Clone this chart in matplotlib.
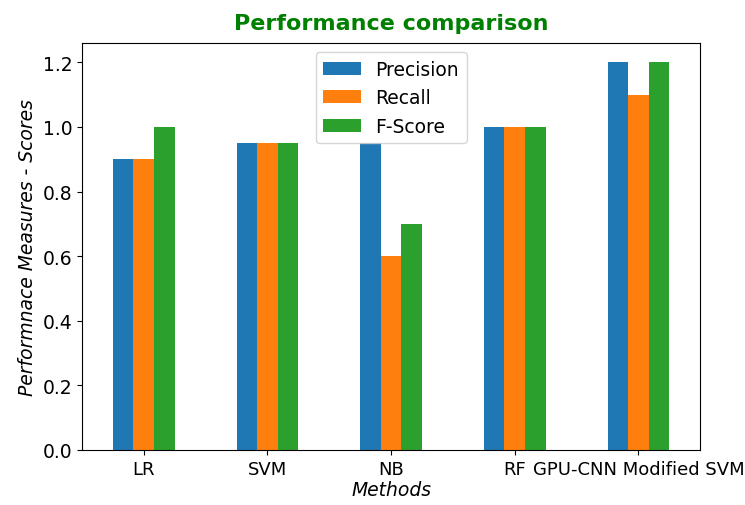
import matplotlib
matplotlib.use("Agg")
import matplotlib.pyplot as plt
import numpy as np

methods = ["LR", "SVM", "NB", "RF", "GPU-CNN Modified SVM"]
precision = [0.9, 0.95, 0.95, 1.0, 1.2]
recall = [0.9, 0.95, 0.6, 1.0, 1.1]
fscore = [1.0, 0.95, 0.7, 1.0, 1.2]
series_names = ["Precision", "Recall", "F-Score"]

fig = plt.figure(figsize=(7.45, 5.06), dpi=100)
ax = fig.add_axes([0.110, 0.109, 0.830, 0.804])

x = np.arange(len(methods))
w = 0.5 / 3
colors = ["#1f77b4", "#ff7f0e", "#2ca02c"]
for i, (vals, name) in enumerate(zip([precision, recall, fscore], series_names)):
    ax.bar(x + (i - 1) * w, vals, width=w, color=colors[i], label=name)

fs = 13.5
ax.set_xlim(-0.5, 4.5)
ax.set_ylim(0, 1.26)
ax.set_xticks(x)
ax.set_xticklabels(methods, fontsize=13)
ax.set_yticks(np.arange(0, 1.21, 0.2))
ax.set_yticklabels([f"{v:.1f}" for v in np.arange(0, 1.21, 0.2)], fontsize=fs)
ax.set_xlabel("Methods", fontstyle="italic", fontsize=fs, labelpad=2)
ax.set_ylabel("Performnace Measures - Scores", fontstyle="italic", fontsize=fs)
ax.set_title("Performance comparison", color="green", fontweight="bold", fontsize=16, pad=10)
ax.legend(loc="upper center", fontsize=fs)

fig.savefig("out.png", dpi=100)
